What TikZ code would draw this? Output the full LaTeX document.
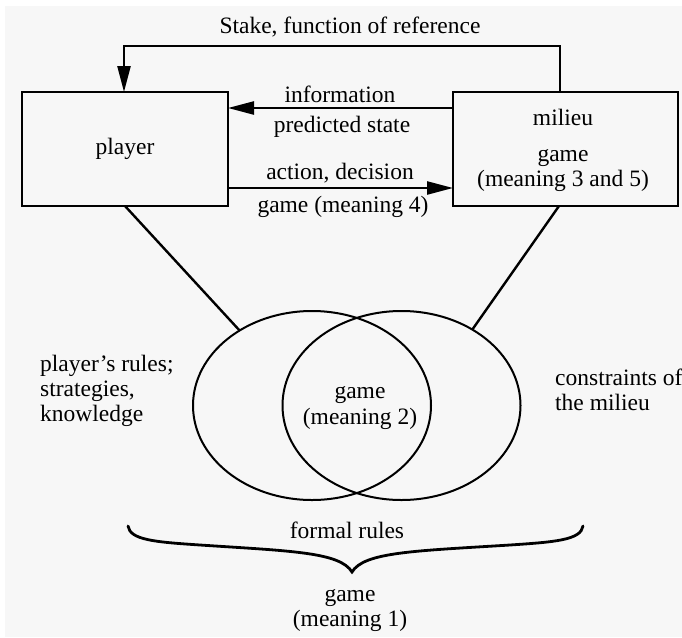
\documentclass[tikz,border=0pt]{standalone}
\usepackage{fontspec}
\setmainfont{Liberation Serif}
\usetikzlibrary{arrows.meta,shapes.geometric}

\definecolor{paper}{RGB}{247,247,247}

\tikzset{
  lbl/.style={font=\fontsize{23.5}{25}\selectfont, inner sep=0pt, align=center},
  box/.style={draw, line width=2.8pt, inner sep=0pt, outer sep=0pt},
  ring/.style={draw, ellipse, line width=2pt, minimum width=238pt, minimum height=189pt, inner sep=0pt, outer sep=0pt},
  link/.style={line width=2.4pt},
  flow/.style={line width=2.4pt, -{Triangle[length=26pt,width=13pt]}},
  bracestroke/.style={line width=2.8pt, line cap=round}
}

\begin{document}
\begin{tikzpicture}[x=1pt,y=-1pt]
  % page
  \fill[white] (0,0) rectangle (682,637);
  \fill[paper] (5,6) rectangle (682,637);
  \useasboundingbox (0,0) rectangle (682,637);

  % the two boxes
  \node[box, lbl, minimum width=206pt, minimum height=114pt] (player) at (125,149) {player};
  \node[box, minimum width=225pt, minimum height=114pt] (milieu) at (565.5,149) {};
  \node[lbl] (mtitle) at (563,117) {milieu};
  \node[lbl] (mgame) at (563,171) {game\\(meaning 3 and 5)};

  % feedback loop over the top
  \coordinate (tl) at (124,46);
  \coordinate (tr) at (560,46);
  \draw[flow] (milieu.north -| tr) |- (tl) -- (tl |- player.north);
  \node[lbl] (stake) at (350,27) {Stake, function of reference};

  % exchanges between player and milieu
  \coordinate (infoY) at (0,108);
  \coordinate (actY) at (0,188);
  \draw[flow] (milieu.west |- infoY) -- (player.east |- infoY);
  \draw[flow] (player.east |- actY) -- (milieu.west |- actY);
  \node[lbl] (info) at (340,94) {information};
  \node[lbl] (pred) at (342,127) {predicted state};
  \node[lbl] (act) at (340,173) {action, decision};
  \node[lbl] (g4) at (343,207) {game (meaning 4)};

  % overlapping rule sets
  \node[ring] (L) at (312,405.5) {};
  \node[ring] (R) at (401.5,405.5) {};
  \node[lbl] (g2) at (360,408) {game\\(meaning 2)};
  \coordinate (mfoot) at (559,0);
  \draw[link] (player.south) -- (L.134);
  \draw[link] (milieu.south -| mfoot) -- (R.47);

  \node[lbl, align=left, anchor=west] (prules) at (40,391) {player's rules;\\strategies,\\knowledge};
  \node[lbl, align=left, anchor=west] (mrules) at (555,389.5) {constraints of\\the milieu};

  % formal rules gathered under a brace
  \node[lbl] (formal) at (347,530) {formal rules};
  \coordinate (bl) at (128,526);
  \coordinate (bt) at (352,572);
  \coordinate (br) at (583,526);
  \draw[bracestroke] (bl) .. controls (130,540) and (155,542) .. (200,545)
     .. controls (290,551) and (340,552) .. (bt)
     .. controls (364,552) and (414,551) .. (510,545)
     .. controls (555,542) and (581,540) .. (br);
  \node[lbl] (g1) at (350,610) {game\\(meaning 1)};
\end{tikzpicture}
\end{document}
